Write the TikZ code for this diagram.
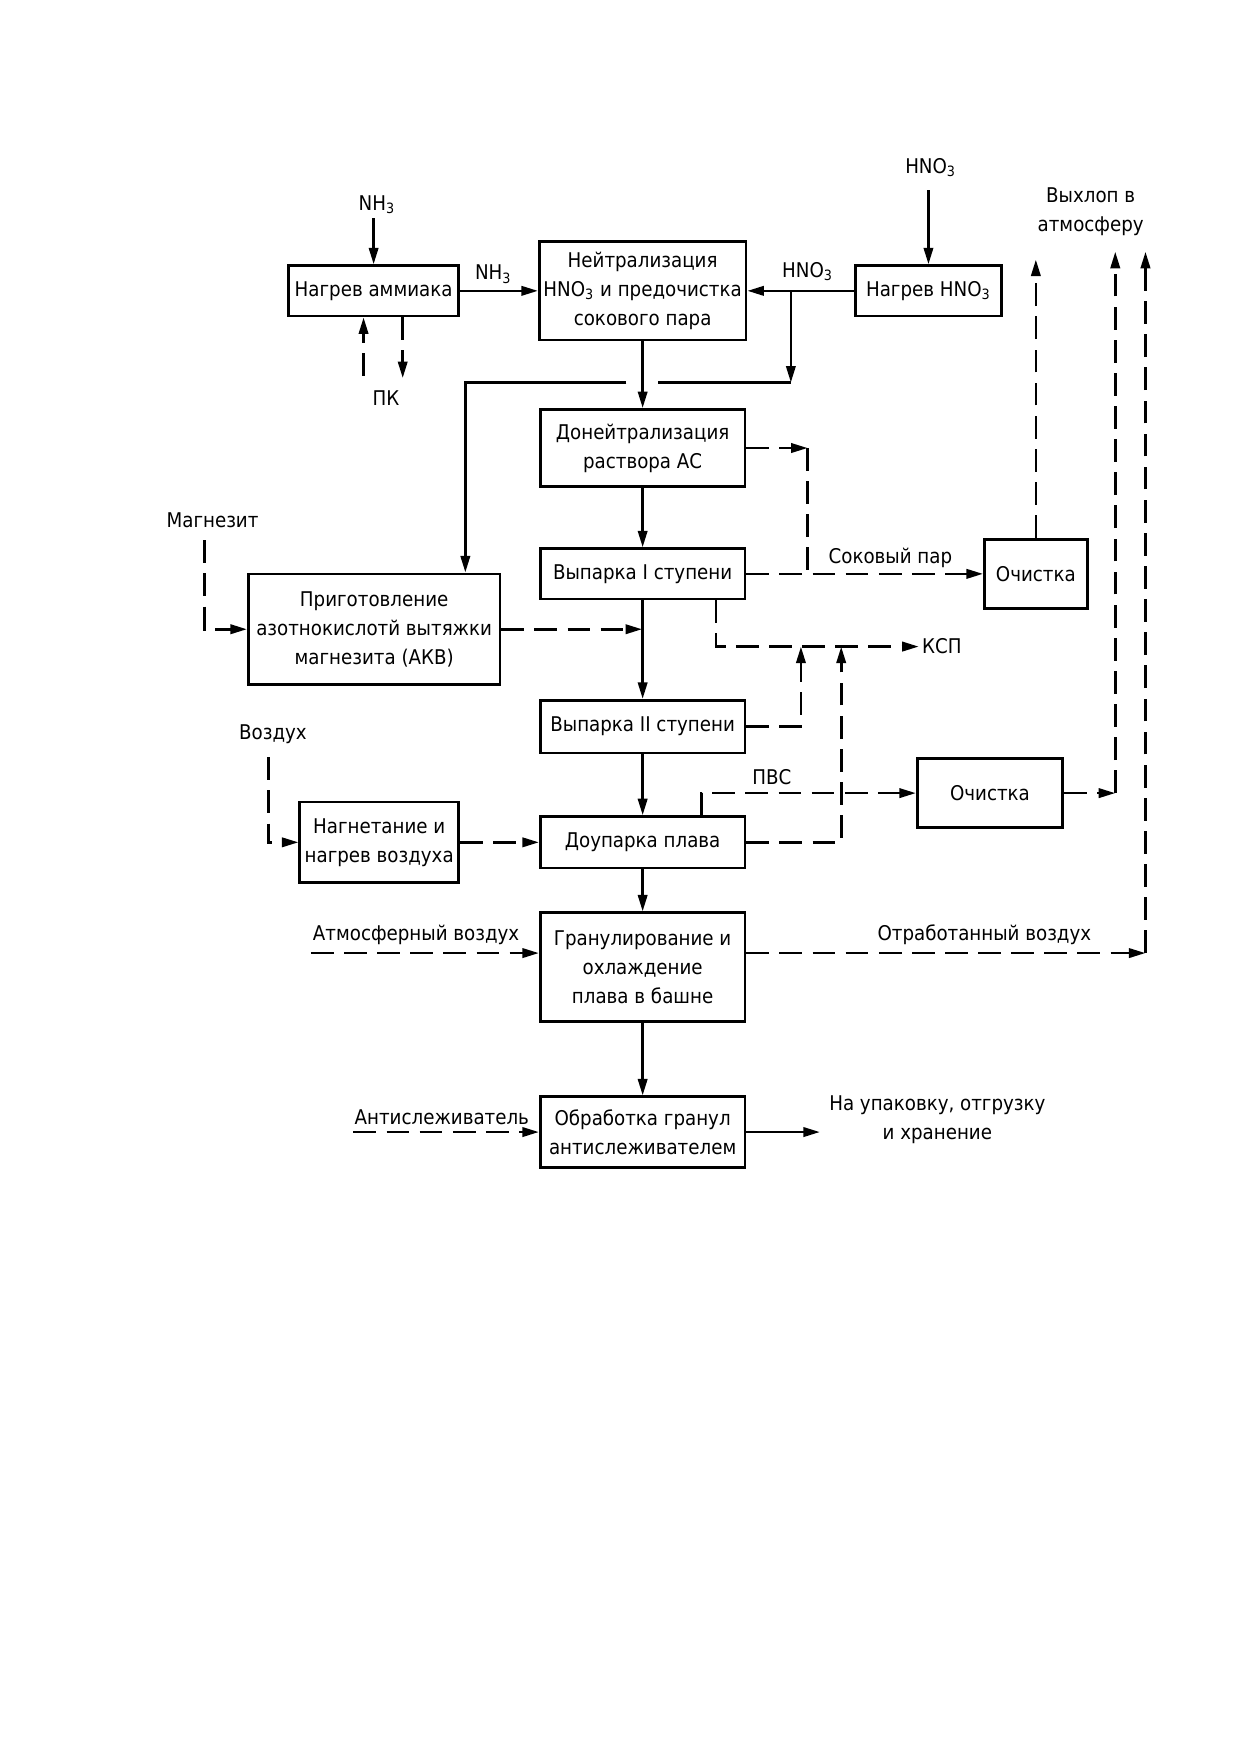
\documentclass[tikz,border=0pt]{standalone}
\usepackage{fontspec}
\setmainfont{DejaVu Sans Condensed}
\usetikzlibrary{arrows.meta}
\def\px{0.019cm}
\begin{document}
\begin{tikzpicture}[x=\px,y=-\px,line width=1.3pt,>={Triangle[length=8pt,width=4.5pt]}]

			\tikzstyle{block}=[draw=black,fill=white,align=center,
				font=\fontsize{9.8}{14}\selectfont,inner sep=2pt]
			\tikzstyle{note}=[align=center,inner sep=1pt,
				font=\fontsize{9.8}{14}\selectfont]
			\tikzstyle{flow}=[->]
			\tikzstyle{gas}=[->,dash pattern=on 11pt off 5pt]
			\tikzstyle{gasline}=[dash pattern=on 11pt off 5pt]

			\useasboundingbox (0,0) rectangle (1109,1568);

			\node[block,minimum width=152*\px,minimum height=45*\px]	(heatamm)	at (334,260)	{Нагрев аммиака};
			\node[block,minimum width=183*\px,minimum height=88*\px]	(neutr)	at (574.5,260)	{Нейтрализация\\HNO\textsubscript{3} и предочистка\\сокового пара};
			\node[block,minimum width=130*\px,minimum height=45*\px]	(heathno)	at (830,260)	{Нагрев HNO\textsubscript{3}};
			\node[block,minimum width=183*\px,minimum height=69*\px]	(donei)	at (574.5,400.5)	{Донейтрализация\\раствора АС};
			\node[block,minimum width=183*\px,minimum height=45*\px]	(vyp1)	at (574.5,513)	{Выпарка I ступени};
			\node[block,minimum width=92*\px,minimum height=62*\px]	(ochist1)	at (926,513)	{Очистка};
			\node[block,minimum width=225*\px,minimum height=99*\px]	(akv)	at (334.5,562.5)	{Приготовление\\азотнокислотй вытяжки\\магнезита (АКВ)};
			\node[block,minimum width=183*\px,minimum height=47*\px]	(vyp2)	at (574.5,649.5)	{Выпарка II ступени};
			\node[block,minimum width=142*\px,minimum height=72*\px]	(nagnet)	at (339,753)	{Нагнетание и\\нагрев воздуха};
			\node[block,minimum width=183*\px,minimum height=46*\px]	(doup)	at (574.5,753)	{Доупарка плава};
			\node[block,minimum width=130*\px,minimum height=62*\px]	(ochist2)	at (885,709)	{Очистка};
			\node[block,minimum width=183*\px,minimum height=97*\px]	(gran)	at (574.5,864.5)	{Гранулирование и\\охлаждение\\плава в башне};
			\node[block,minimum width=183*\px,minimum height=63*\px]	(obrab)	at (574.5,1012)	{Обработка гранул\\антислеживателем};

			\node[note]	(nh3top)	at (337,183)	{NH\textsubscript{3}};
			\node[note]	(pk)	at (345,356)	{ПК};
			\node[note]	(nh3lbl)	at (441,245)	{NH\textsubscript{3}};
			\node[note]	(hno3top)	at (832,150)	{HNO\textsubscript{3}};
			\node[note]	(hno3lbl)	at (722,243)	{HNO\textsubscript{3}};
			\node[note]	(vyhlop)	at (975,189)	{Выхлоп в\\атмосферу};
			\node[note]	(magnez)	at (190,465)	{Магнезит};
			\node[note]	(sokpar)	at (796,499)	{Соковый пар};
			\node[note]	(ksp)	at (842,578)	{КСП};
			\node[note]	(vozduh)	at (244,656)	{Воздух};
			\node[note]	(pvslbl)	at (690,695)	{ПВС};
			\node[note]	(atmvoz)	at (372,836)	{Атмосферный воздух};
			\node[note]	(otrab)	at (880,836)	{Отработанный воздух};
			\node[note]	(antisl)	at (395,999)	{Антислеживатель};
			\node[note]	(upak)	at (838,1001)	{На упаковку, отгрузку\\и хранение};

			\coordinate (nh3in)	at (334,195);
			\coordinate (pkin)	at (325,336);
			\coordinate (pkout)	at (360,338);
			\coordinate (hno3in)	at (830,170);
			\coordinate (hbr)	at (707,260);
			\coordinate (hdn)	at (707,342);
			\coordinate (jmp1)	at (588,342);
			\coordinate (jmp2)	at (560,342);
			\coordinate (akvin)	at (416,342);
			\coordinate (sp)	at (722,401);
			\coordinate (kspc)	at (640,578);
			\coordinate (k1)	at (716,578);
			\coordinate (k2)	at (752,578);
			\coordinate (akvout)	at (574,563);
			\coordinate (mgin)	at (183,483);
			\coordinate (vzin)	at (240,677);
			\coordinate (pvs)	at (627,709);
			\coordinate (ex1top)	at (926,232);
			\coordinate (ex2)	at (997,709);
			\coordinate (ex2top)	at (997,225);
			\coordinate (atmin)	at (278,852);
			\coordinate (ex3)	at (1024,852);
			\coordinate (ex3top)	at (1024,225);
			\coordinate (asin)	at (316,1012);
			\coordinate (out)	at (733,1012);

			\draw[flow] (nh3in) -- (heatamm);
			\draw[gas] (pkin) -- (pkin |- heatamm.south);
			\draw[gas] (heatamm.south -| pkout) -- (pkout);
			\draw[flow] (heatamm) -- (neutr);
			\draw[flow] (hno3in) -- (heathno);
			\draw[flow] (heathno) -- (neutr);
			\draw[flow] (hbr) -- (hdn);
			\draw (hdn) -- (jmp1);
			\draw[flow] (jmp2) -- (akvin) -- (akvin |- akv.north);

			\draw[flow] (neutr) -- (donei);
			\draw[flow] (donei) -- (vyp1);
			\draw[flow] (vyp1) -- (vyp2);
			\draw[flow] (vyp2) -- (doup);
			\draw[flow] (doup) -- (gran);
			\draw[flow] (gran) -- (obrab);
			\draw[flow] (obrab) -- (out);

			\draw[gas] (donei) -- (donei -| sp);
			\draw[gasline] (donei -| sp) -- (vyp1 -| sp);
			\draw[gas] (vyp1) -- (ochist1);
			\draw[gas] (ochist1) -- (ex1top);
			\draw[gas] (vyp1.south -| kspc) -- (kspc) -- (ksp.west);
			\draw[gas] (vyp2) -- (vyp2 -| k1) -- (k1);
			\draw[gas] (doup) -- (doup -| k2) -- (k2);
			\draw[gas] (akv) -- (akv -| akvout);
			\draw[gas] (mgin) -- (mgin |- akv) -- (akv);
			\draw[gas] (vzin) -- (vzin |- nagnet) -- (nagnet);
			\draw[gas] (nagnet) -- (doup);
			\draw[gas] (doup.north -| pvs) -- (pvs) -- (ochist2);
			\draw[gas] (ochist2) -- (ex2);
			\draw[gas] (ex2) -- (ex2top);
			\draw[gas] (atmin) -- (atmin -| gran.west);
			\draw[gas] (ex3 -| gran.east) -- (ex3);
			\draw[gas] (ex3) -- (ex3top);
			\draw[gas] (asin) -- (obrab);

		\end{tikzpicture}
\end{document}
